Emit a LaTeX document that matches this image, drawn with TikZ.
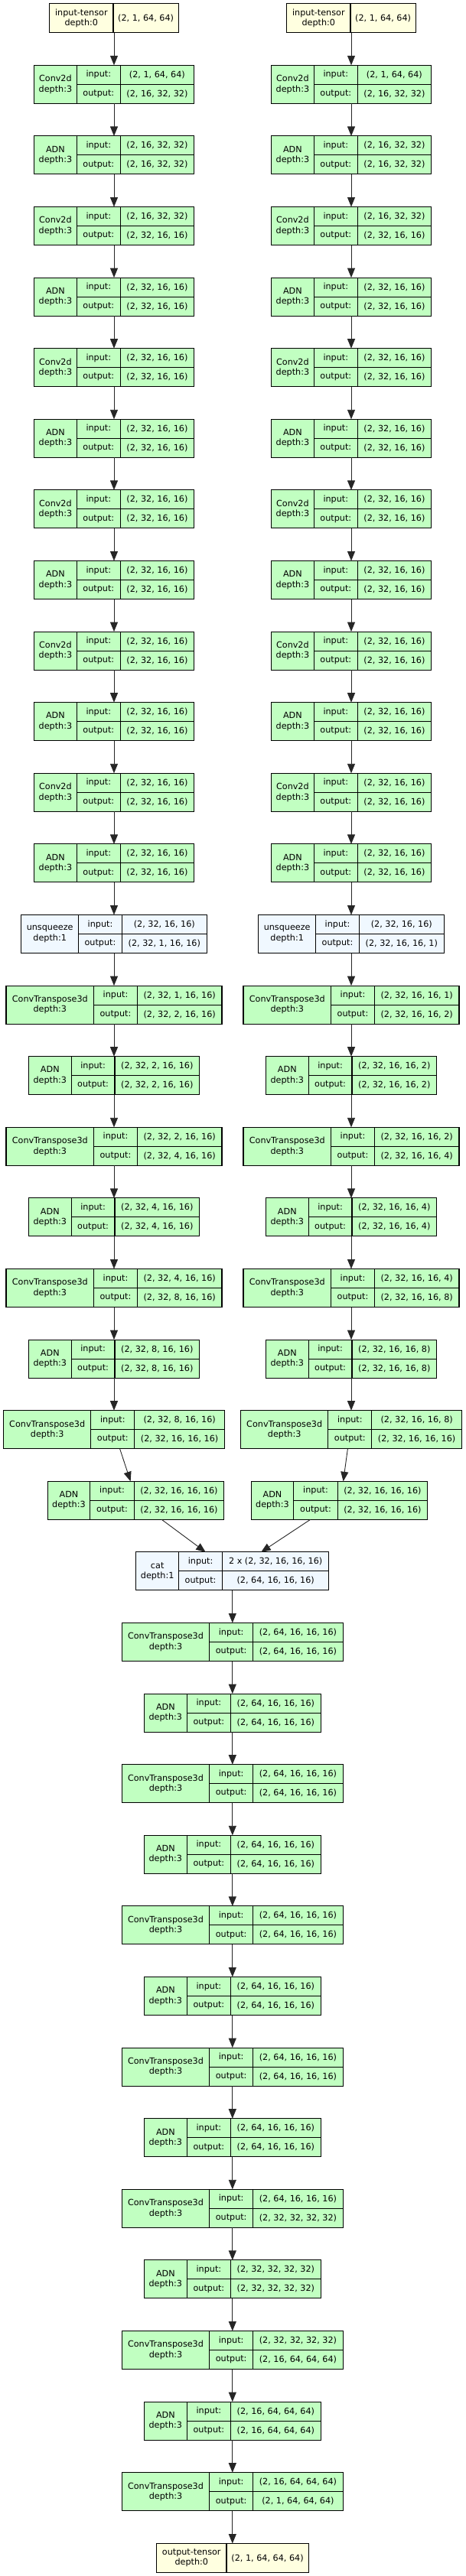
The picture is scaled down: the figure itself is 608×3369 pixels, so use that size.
\documentclass[tikz,border=0pt]{standalone}
\usepackage{fontspec}
\setmainfont{DejaVu Sans}
\usetikzlibrary{arrows.meta}

\definecolor{modfill}{HTML}{C1FFC1}
\definecolor{tensorfill}{HTML}{FFFFE0}
\definecolor{funcfill}{HTML}{F0F8FF}

% cell widths (label | input:/output: | shapes) per kind of block
\tikzset{
  tensorin/.code={\def\wa{83.3}\def\wc{85.3}\def\cellfill{tensorfill}},
  tensorout/.code={\def\wa{91.5}\def\wc{107.1}\def\cellfill{tensorfill}},
  encblk/.code={\def\wa{55.8}\def\wb{57}\def\wc{96.2}\def\cellfill{modfill}},
  unsqblk/.code={\def\wa{74.9}\def\wb{56.8}\def\wc{110.9}\def\cellfill{funcfill}},
  upblk/.code={\def\wa{114.6}\def\wb{56.8}\def\wc{110.6}\def\cellfill{modfill}},
  upadn/.code={\def\wa{55.8}\def\wb{56.8}\def\wc{110.6}\def\cellfill{modfill}},
  upblkw/.code={\def\wa{114.3}\def\wb{57}\def\wc{117.6}\def\cellfill{modfill}},
  upadnw/.code={\def\wa{55.8}\def\wb{57.3}\def\wc{117.6}\def\cellfill{modfill}},
  catblk/.code={\def\wa{55.8}\def\wb{57}\def\wc{139.2}\def\cellfill{funcfill}}
}

% one layer: name, kind, centre, label, input shape, output shape
\newcommand{\layerbox}[6]{%
  \edef\kindtmp{\noexpand\tikzset{#2}}\kindtmp
  \pgfmathsetmacro\wt{\wa+\wb+\wc}%
  \node[blkframe, minimum width=\wt pt, minimum height=50pt] (#1) at #3 {};
  \node[cell, minimum width=\wa pt, minimum height=50pt, anchor=north west] (#1-l) at (#1.north west) {#4};
  \node[cell, minimum width=\wb pt, anchor=north west] (#1-i) at (#1-l.north east) {input:};
  \node[cell, minimum width=\wb pt, anchor=north west] (#1-o) at (#1-i.south west) {output:};
  \node[cell, minimum width=\wc pt, anchor=north west] (#1-iv) at (#1-i.north east) {#5};
  \node[cell, minimum width=\wc pt, anchor=north west] (#1-ov) at (#1-o.north east) {#6};
}
% one tensor: name, kind, centre, label, shape
\newcommand{\tensorbox}[5]{%
  \edef\kindtmp{\noexpand\tikzset{#2}}\kindtmp
  \pgfmathsetmacro\wt{\wa+\wc}%
  \node[blkframe, minimum width=\wt pt, minimum height=38pt] (#1) at #3 {};
  \node[cell, minimum width=\wa pt, minimum height=38pt, anchor=north west] (#1-l) at (#1.north west) {#4};
  \node[cell, minimum width=\wc pt, minimum height=38pt, anchor=north west] (#1-v) at (#1-l.north east) {#5};
}

\begin{document}
\begin{tikzpicture}[
  x=1pt, y=-1pt,
  blkframe/.style={rectangle, inner sep=0pt, outer sep=0pt},
  cell/.style={draw=black, line width=1.1pt, fill=\cellfill, rectangle, inner sep=0pt, outer sep=0pt,
               minimum height=25pt, align=center, font=\fontsize{11.2}{13.3}\selectfont},
  edge/.style={-{Triangle[length=12.5pt, width=10pt]}, line width=0.9pt, black!85}
]
\useasboundingbox (0,0) rectangle (608,3369);

% ===== Two encoder branches =====
\foreach \s/\cx in {L/149, R/459}{
  \tensorbox{in\s}{tensorin}{(\cx,23.7)}{input-tensor\\depth:0}{(2, 1, 64, 64)}
  \foreach \k/\op/\vi/\vo in {
    1/Conv2d/{(2, 1, 64, 64)}/{(2, 16, 32, 32)},
    2/ADN/{(2, 16, 32, 32)}/{(2, 16, 32, 32)},
    3/Conv2d/{(2, 16, 32, 32)}/{(2, 32, 16, 16)},
    4/ADN/{(2, 32, 16, 16)}/{(2, 32, 16, 16)},
    5/Conv2d/{(2, 32, 16, 16)}/{(2, 32, 16, 16)},
    6/ADN/{(2, 32, 16, 16)}/{(2, 32, 16, 16)},
    7/Conv2d/{(2, 32, 16, 16)}/{(2, 32, 16, 16)},
    8/ADN/{(2, 32, 16, 16)}/{(2, 32, 16, 16)},
    9/Conv2d/{(2, 32, 16, 16)}/{(2, 32, 16, 16)},
    10/ADN/{(2, 32, 16, 16)}/{(2, 32, 16, 16)},
    11/Conv2d/{(2, 32, 16, 16)}/{(2, 32, 16, 16)},
    12/ADN/{(2, 32, 16, 16)}/{(2, 32, 16, 16)}}
    {\layerbox{\s\k}{encblk}{(\cx,{110.3+(\k-1)*92.6})}{\op\\depth:3}{\vi}{\vo}}
}

% ----- Left decoder -----
\foreach \k/\kind/\lab/\vi/\vo in {
  13/unsqblk/{unsqueeze\\depth:1}/{(2, 32, 16, 16)}/{(2, 32, 1, 16, 16)},
  14/upblk/{ConvTranspose3d\\depth:3}/{(2, 32, 1, 16, 16)}/{(2, 32, 2, 16, 16)},
  15/upadn/{ADN\\depth:3}/{(2, 32, 2, 16, 16)}/{(2, 32, 2, 16, 16)},
  16/upblk/{ConvTranspose3d\\depth:3}/{(2, 32, 2, 16, 16)}/{(2, 32, 4, 16, 16)},
  17/upadn/{ADN\\depth:3}/{(2, 32, 4, 16, 16)}/{(2, 32, 4, 16, 16)},
  18/upblk/{ConvTranspose3d\\depth:3}/{(2, 32, 4, 16, 16)}/{(2, 32, 8, 16, 16)},
  19/upadn/{ADN\\depth:3}/{(2, 32, 8, 16, 16)}/{(2, 32, 8, 16, 16)},
  20/upblkw/{ConvTranspose3d\\depth:3}/{(2, 32, 8, 16, 16)}/{(2, 32, 16, 16, 16)}}
  {\layerbox{L\k}{\kind}{(149,{110.3+(\k-1)*92.6})}{\lab}{\vi}{\vo}}
\layerbox{L21}{upadnw}{(177.4,1962.3)}{ADN\\depth:3}{(2, 32, 16, 16, 16)}{(2, 32, 16, 16, 16)}

% ----- Right decoder -----
\foreach \k/\kind/\lab/\vi/\vo in {
  13/unsqblk/{unsqueeze\\depth:1}/{(2, 32, 16, 16)}/{(2, 32, 16, 16, 1)},
  14/upblk/{ConvTranspose3d\\depth:3}/{(2, 32, 16, 16, 1)}/{(2, 32, 16, 16, 2)},
  15/upadn/{ADN\\depth:3}/{(2, 32, 16, 16, 2)}/{(2, 32, 16, 16, 2)},
  16/upblk/{ConvTranspose3d\\depth:3}/{(2, 32, 16, 16, 2)}/{(2, 32, 16, 16, 4)},
  17/upadn/{ADN\\depth:3}/{(2, 32, 16, 16, 4)}/{(2, 32, 16, 16, 4)},
  18/upblk/{ConvTranspose3d\\depth:3}/{(2, 32, 16, 16, 4)}/{(2, 32, 16, 16, 8)},
  19/upadn/{ADN\\depth:3}/{(2, 32, 16, 16, 8)}/{(2, 32, 16, 16, 8)},
  20/upblkw/{ConvTranspose3d\\depth:3}/{(2, 32, 16, 16, 8)}/{(2, 32, 16, 16, 16)}}
  {\layerbox{R\k}{\kind}{(459,{110.3+(\k-1)*92.6})}{\lab}{\vi}{\vo}}
\layerbox{R21}{upadnw}{(443.4,1962.3)}{ADN\\depth:3}{(2, 32, 16, 16, 16)}{(2, 32, 16, 16, 16)}

% ===== Merge and tail =====
\foreach \k/\kind/\lab/\vi/\vo in {
  22/catblk/{cat\\depth:1}/{2 x (2, 32, 16, 16, 16)}/{(2, 64, 16, 16, 16)},
  23/upblkw/{ConvTranspose3d\\depth:3}/{(2, 64, 16, 16, 16)}/{(2, 64, 16, 16, 16)},
  24/upadnw/{ADN\\depth:3}/{(2, 64, 16, 16, 16)}/{(2, 64, 16, 16, 16)},
  25/upblkw/{ConvTranspose3d\\depth:3}/{(2, 64, 16, 16, 16)}/{(2, 64, 16, 16, 16)},
  26/upadnw/{ADN\\depth:3}/{(2, 64, 16, 16, 16)}/{(2, 64, 16, 16, 16)},
  27/upblkw/{ConvTranspose3d\\depth:3}/{(2, 64, 16, 16, 16)}/{(2, 64, 16, 16, 16)},
  28/upadnw/{ADN\\depth:3}/{(2, 64, 16, 16, 16)}/{(2, 64, 16, 16, 16)},
  29/upblkw/{ConvTranspose3d\\depth:3}/{(2, 64, 16, 16, 16)}/{(2, 64, 16, 16, 16)},
  30/upadnw/{ADN\\depth:3}/{(2, 64, 16, 16, 16)}/{(2, 64, 16, 16, 16)},
  31/upblkw/{ConvTranspose3d\\depth:3}/{(2, 64, 16, 16, 16)}/{(2, 32, 32, 32, 32)},
  32/upadnw/{ADN\\depth:3}/{(2, 32, 32, 32, 32)}/{(2, 32, 32, 32, 32)},
  33/upblkw/{ConvTranspose3d\\depth:3}/{(2, 32, 32, 32, 32)}/{(2, 16, 64, 64, 64)},
  34/upadnw/{ADN\\depth:3}/{(2, 16, 64, 64, 64)}/{(2, 16, 64, 64, 64)},
  35/upblkw/{ConvTranspose3d\\depth:3}/{(2, 16, 64, 64, 64)}/{(2, 1, 64, 64, 64)}}
  {\layerbox{M\k}{\kind}{(303.8,{110.3+(\k-1)*92.6})}{\lab}{\vi}{\vo}}
\tensorbox{out}{tensorout}{(303.8,3345.5)}{output-tensor\\depth:0}{(2, 1, 64, 64, 64)}

% ===== Edges =====
\foreach \s in {L,R}{
  \draw[edge] (in\s.south) -- (\s1.north);
  \foreach \k [count=\j from 2] in {1,...,19} \draw[edge] (\s\k.south) -- (\s\j.north);
}
\draw[edge] ([xshift=7.6pt]L20.south) -- ([xshift=-6.8pt]L21.north);
\draw[edge] ([xshift=-4.6pt]R20.south) -- ([xshift=5.2pt]R21.north);
\draw[edge] ([xshift=33.9pt]L21.south) -- ([xshift=-35.1pt]M22.north);
\draw[edge] ([xshift=-37.8pt]R21.south) -- ([xshift=37.4pt]M22.north);
\foreach \k [count=\j from 23] in {22,...,34} \draw[edge] (M\k.south) -- (M\j.north);
\draw[edge] (M35.south) -- (out.north);
\end{tikzpicture}
\end{document}
